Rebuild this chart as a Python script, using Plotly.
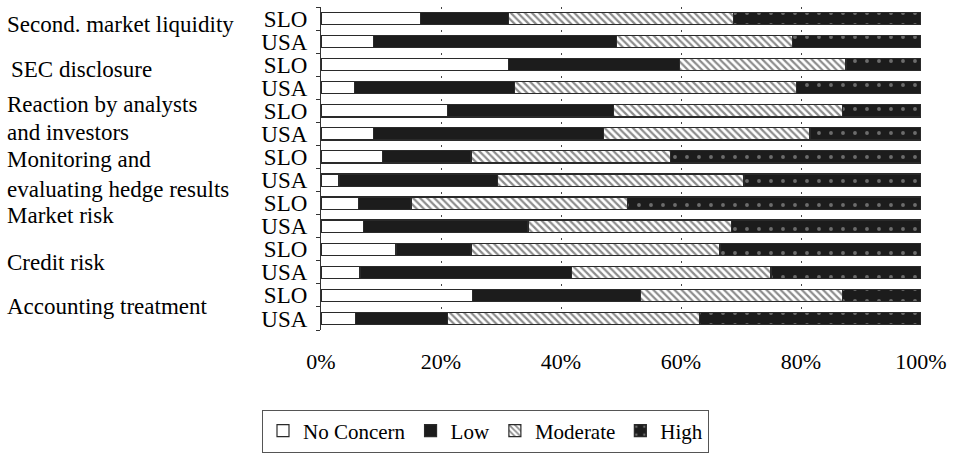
import plotly.graph_objects as go

# ---- data ----
groups = ["Second. market liquidity", "SEC disclosure", "Reaction by analysts and investors",
          "Monitoring and evaluating hedge results", "Market risk", "Credit risk", "Accounting treatment"]
countries = ["SLO", "USA"]
series_names = ["No Concern", "Low", "Moderate", "High"]
no_concern = [16.6, 8.8, 31.3, 5.6, 21.1, 8.8, 10.3, 3.0, 6.2, 7.1, 12.5, 6.5, 25.3, 5.8]
low = [14.6, 40.4, 28.4, 26.7, 27.7, 38.3, 14.7, 26.4, 8.8, 27.4, 12.5, 35.2, 28.0, 15.3]
moderate = [37.5, 29.4, 27.8, 46.9, 38.1, 34.4, 33.2, 41.1, 36.1, 33.9, 41.5, 33.3, 33.6, 42.0]
high = [31.3, 21.4, 12.5, 20.8, 13.1, 18.5, 41.8, 29.5, 48.9, 31.6, 33.5, 25.0, 13.1, 36.9]
x_ticks = [0, 20, 40, 60, 80, 100]
x_tick_labels = ["0%", "20%", "40%", "60%", "80%", "100%"]

# group label lines (text only; positions in layout section)
label_lines = ["Second. market liquidity", "SEC disclosure", "Reaction by analysts", "and investors",
               "Monitoring and", "evaluating hedge results", "Market risk", "Credit risk",
               "Accounting treatment"]

# ---- layout geometry ----
W, H = 956, 453
L, R, T, B = 321, 35, 7, 123
PW, PH = W - L - R, H - T - B
FONT = "Liberation Serif"

cats = [f"{g}|{c}" for g in groups for c in countries]
tick_text = [c for g in groups for c in countries]

line_col = "#2a2a2a"
styles = [
    dict(color="white"),
    dict(color="#1c1c1c"),
    dict(color="white", pattern=dict(shape="\\", fgcolor="#1a1a1a", bgcolor="white",
                                     size=5, solidity=0.45)),
    dict(color="#1c1c1c", pattern=dict(shape=".", fgcolor="#bbbbbb", bgcolor="#1c1c1c",
                                       size=12, solidity=0.08)),
]

fig = go.Figure()
for name, vals, st in zip(series_names, [no_concern, low, moderate, high], styles):
    fig.add_trace(go.Bar(
        y=cats, x=vals, orientation="h", name=name,
        marker=dict(line=dict(color=line_col, width=1.2), **st),
    ))

label_px = [(5, 25), (9, 69), (5, 104), (5, 132), (5, 159), (5, 189), (5, 215), (5, 262), (5, 306)]
annotations = []
for txt, (px, py) in zip(label_lines, label_px):
    annotations.append(dict(
        text=txt, xref="paper", yref="paper",
        x=(px - L) / PW, y=(T + PH - py) / PH,
        xanchor="left", yanchor="middle", showarrow=False,
        font=dict(family=FONT, size=23, color="black"),
    ))

fig.update_layout(
    width=W, height=H,
    margin=dict(l=L, r=R, t=T, b=B, pad=0),
    paper_bgcolor="white", plot_bgcolor="white",
    barmode="stack", bargap=0.47,
    font=dict(family=FONT, size=22, color="black"),
    xaxis=dict(
        range=[0, 100], tickvals=x_ticks, ticktext=x_tick_labels,
        showgrid=True, gridcolor="#444444", gridwidth=1, griddash="2px,21.07px",
        zeroline=False, showline=False, ticks="",
        ticklabelstandoff=16,
        tickfont=dict(family=FONT, size=22, color="black"),
    ),
    yaxis=dict(
        categoryorder="array", categoryarray=cats, autorange="reversed",
        tickvals=cats, ticktext=tick_text,
        showline=True, linecolor="#333333", linewidth=1.2,
        ticks="outside", tickson="boundaries", ticklen=4, tickcolor="#333333",
        showgrid=False, zeroline=False, ticklabelstandoff=8,
        tickfont=dict(family=FONT, size=23, color="black"),
    ),
    showlegend=True,
    legend=dict(
        orientation="h", xref="container", yref="container",
        x=485.5 / W, y=1 - 431 / H, xanchor="center", yanchor="middle",
        bordercolor="#555555", borderwidth=1, bgcolor="white",
        font=dict(family=FONT, size=21, color="black"),
        traceorder="normal", itemwidth=30,
    ),
    annotations=annotations,
)

fig.write_html("out.html", config={"displayModeBar": False},
               post_script="document.body.style.margin='0';")
